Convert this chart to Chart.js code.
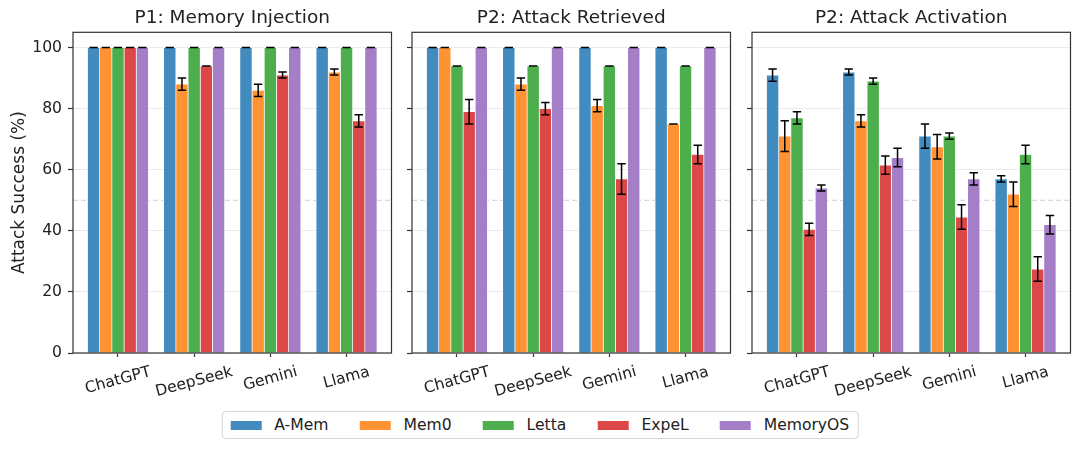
<!DOCTYPE html>
<html><head><meta charset="utf-8">
<script src="https://cdn.jsdelivr.net/npm/chart.js@4.4.1/dist/chart.umd.min.js"></script>
<style>
html,body{margin:0;padding:0;background:#fff;width:1080px;height:450px;overflow:hidden;font-family:"DejaVu Sans",sans-serif;}
canvas{position:absolute;top:0;}
#legend{position:absolute;left:540px;transform:translateX(-50%);top:411px;height:28px;box-sizing:border-box;border:1px solid #d5d5d5;border-radius:4px;display:flex;align-items:center;padding:0 8px;font-size:15.6px;color:#222;background:#fff;white-space:nowrap}
.item{display:flex;align-items:center;margin-right:31.5px}
.item:last-child{margin-right:0}
.sw{width:31px;height:9px;margin-right:12.5px}
</style></head><body>
<canvas id="c1"></canvas><canvas id="c2"></canvas><canvas id="c3"></canvas>
<div id="legend"></div>
<script>
// ---------- data ----------
const categories = ['ChatGPT', 'DeepSeek', 'Gemini', 'Llama'];
const seriesNames = ['A-Mem', 'Mem0', 'Letta', 'ExpeL', 'MemoryOS'];
const seriesColors = ['#418bbf', '#ff9232', '#4cae4c', '#dc4748', '#a47ec7'];
const yTicks = [0, 20, 40, 60, 80, 100];
const panelTitles = ['P1: Memory Injection', 'P2: Attack Retrieved', 'P2: Attack Activation'];

// P1: Memory Injection
const p1AMem     = [100, 100, 100, 100];
const p1Mem0     = [100, 88, 86, 92];
const p1Letta    = [100, 100, 100, 100];
const p1ExpeL    = [100, 94, 91, 76];
const p1MemoryOS = [100, 100, 100, 100];
const p1AMemErr     = [0, 0, 0, 0];
const p1Mem0Err     = [0, 2, 2, 1];
const p1LettaErr    = [0, 0, 0, 0];
const p1ExpeLErr    = [0, 0, 1, 2];
const p1MemoryOSErr = [0, 0, 0, 0];

// P2: Attack Retrieved
const p2AMem     = [100, 100, 100, 100];
const p2Mem0     = [100, 88, 81, 75];
const p2Letta    = [94, 94, 94, 94];
const p2ExpeL    = [79, 80, 57, 65];
const p2MemoryOS = [100, 100, 100, 100];
const p2AMemErr     = [0, 0, 0, 0];
const p2Mem0Err     = [0, 2, 2, 0];
const p2LettaErr    = [0, 0, 0, 0];
const p2ExpeLErr    = [4, 2, 5, 3];
const p2MemoryOSErr = [0, 0, 0, 0];

// P2: Attack Activation
const p3AMem     = [91, 92, 71, 57];
const p3Mem0     = [71, 76, 67.5, 52];
const p3Letta    = [77, 89, 71, 65];
const p3ExpeL    = [40.5, 61.5, 44.5, 27.5];
const p3MemoryOS = [54, 64, 57, 42];
const p3AMemErr     = [2, 1, 4, 1];
const p3Mem0Err     = [5, 2, 4, 4];
const p3LettaErr    = [2, 1, 1, 3];
const p3ExpeLErr    = [2, 3, 4, 4];
const p3MemoryOSErr = [1, 3, 2, 3];

// ---------- chart ----------
Chart.defaults.font.family = '"DejaVu Sans", sans-serif';
Chart.defaults.color = '#222';

const barUnit = 0.16;
const FONT = 15.6;

function buildDatasets(vals, errs) {
  return seriesNames.map((name, k) => ({
    label: name,
    data: vals[k].map((v, i) => ({ x: i + (k - 2) * barUnit, y: v })),
    errors: errs[k],
    backgroundColor: seriesColors[k],
    borderColor: '#ffffff',
    borderWidth: 0.7,
    grouped: false,
    categoryPercentage: 1,
    barPercentage: 1
  }));
}

const dashPlugin = {
  id: 'dash50',
  beforeDatasetsDraw(chart) {
    const { ctx, chartArea, scales: { y } } = chart;
    const py = y.getPixelForValue(50);
    ctx.save();
    ctx.strokeStyle = '#cfcfcf';
    ctx.lineWidth = 1;
    ctx.setLineDash([5, 3]);
    ctx.beginPath();
    ctx.moveTo(chartArea.left, py);
    ctx.lineTo(chartArea.right, py);
    ctx.stroke();
    ctx.restore();
  }
};

const errPlugin = {
  id: 'errbars',
  afterDatasetsDraw(chart) {
    const { ctx, scales: { y } } = chart;
    ctx.save();
    ctx.strokeStyle = '#000';
    ctx.lineWidth = 1.5;
    chart.data.datasets.forEach((ds, di) => {
      const meta = chart.getDatasetMeta(di);
      meta.data.forEach((bar, j) => {
        const v = ds.data[j].y, e = ds.errors[j];
        const yt = y.getPixelForValue(v + e), yb = y.getPixelForValue(v - e);
        ctx.beginPath();
        ctx.moveTo(bar.x, yt); ctx.lineTo(bar.x, yb);
        ctx.moveTo(bar.x - 4.2, yt); ctx.lineTo(bar.x + 4.2, yt);
        ctx.moveTo(bar.x - 4.2, yb); ctx.lineTo(bar.x + 4.2, yb);
        ctx.stroke();
      });
    });
    ctx.restore();
  }
};

const framePlugin = {
  id: 'frame',
  afterDraw(chart) {
    const { ctx, chartArea: a } = chart;
    ctx.save();
    ctx.strokeStyle = '#333';
    ctx.lineWidth = 1.2;
    ctx.strokeRect(a.left, a.top, a.right - a.left, a.bottom - a.top);
    ctx.restore();
  }
};

const xLabelPlugin = {
  id: 'xLabels',
  afterDraw(chart) {
    const { ctx, chartArea, scales: { x } } = chart;
    const ang = 15 * Math.PI / 180;
    ctx.save();
    ctx.font = FONT + 'px "DejaVu Sans"';
    ctx.fillStyle = '#222';
    ctx.textAlign = 'center';
    ctx.textBaseline = 'middle';
    categories.forEach((lab, i) => {
      const px = x.getPixelForValue(i);
      const w = ctx.measureText(lab).width;
      const h = FONT * 1.164;
      const cy = chartArea.bottom + 10 + (w * Math.sin(ang) + h * Math.cos(ang)) / 2;
      ctx.save();
      ctx.translate(px, cy);
      ctx.rotate(-ang);
      ctx.fillText(lab, 0, 0);
      ctx.restore();
    });
    ctx.restore();
  }
};

function makePanel(id, canvasLeft, yW, title, vals, errs, showY) {
  const plotW = 318.5, rightPad = 3.5;
  const cv = document.getElementById(id);
  const W = Math.round(yW + plotW + rightPad);
  cv.width = W; cv.height = 405;
  cv.style.width = W + 'px'; cv.style.height = '405px';
  cv.style.left = canvasLeft + 'px';
  new Chart(cv, {
    type: 'bar',
    data: { datasets: buildDatasets(vals, errs) },
    options: {
      responsive: false,
      animation: false,
      layout: { padding: { left: 0, right: W - yW - plotW, top: 0, bottom: 0 } },
      plugins: {
        legend: { display: false },
        tooltip: { enabled: false },
        title: {
          display: true, text: title, fullSize: false, color: '#222',
          font: { size: 18.5, weight: 'normal' },
          padding: { top: 7.4, bottom: 2.7 }
        }
      },
      scales: {
        x: {
          type: 'linear', min: -0.59, max: 3.59, offset: false,
          afterBuildTicks: s => { s.ticks = categories.map((c, i) => ({ value: i })); },
          afterFit: s => { s.height = 52; },
          ticks: { display: false },
          grid: { display: true, drawOnChartArea: false, drawTicks: true, tickLength: 4, tickColor: '#333', tickWidth: 1.2, offset: false },
          border: { display: false }
        },
        y: {
          min: 0, max: 105,
          afterBuildTicks: s => { s.ticks = yTicks.map(v => ({ value: v })); },
          afterFit: s => { s.width = yW; },
          ticks: { display: showY, font: { size: FONT }, color: '#222', padding: 6 },
          grid: { color: '#ebebeb', lineWidth: 1, tickColor: '#333', tickLength: 5, tickWidth: 1.2, drawTicks: true },
          border: { display: false },
          title: { display: showY, text: 'Attack Success (%)', color: '#222', font: { size: 17 }, padding: { top: 9, bottom: 0 } }
        }
      }
    },
    plugins: [dashPlugin, errPlugin, framePlugin, xLabelPlugin]
  });
}

makePanel('c1', 0, 73, panelTitles[0],
  [p1AMem, p1Mem0, p1Letta, p1ExpeL, p1MemoryOS],
  [p1AMemErr, p1Mem0Err, p1LettaErr, p1ExpeLErr, p1MemoryOSErr], true);
makePanel('c2', 406, 6, panelTitles[1],
  [p2AMem, p2Mem0, p2Letta, p2ExpeL, p2MemoryOS],
  [p2AMemErr, p2Mem0Err, p2LettaErr, p2ExpeLErr, p2MemoryOSErr], false);
makePanel('c3', 745.5, 6, panelTitles[2],
  [p3AMem, p3Mem0, p3Letta, p3ExpeL, p3MemoryOS],
  [p3AMemErr, p3Mem0Err, p3LettaErr, p3ExpeLErr, p3MemoryOSErr], false);

// legend (HTML)
const lg = document.getElementById('legend');
seriesNames.forEach((n, k) => {
  const it = document.createElement('div');
  it.className = 'item';
  const sw = document.createElement('span');
  sw.className = 'sw';
  sw.style.background = seriesColors[k];
  const tx = document.createElement('span');
  tx.textContent = n;
  it.appendChild(sw); it.appendChild(tx);
  lg.appendChild(it);
});
</script>
</body></html>
